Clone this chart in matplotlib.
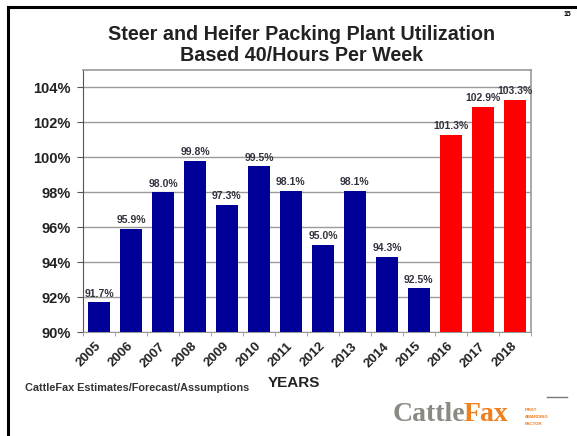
import numpy as np
import matplotlib
matplotlib.use("Agg")
import matplotlib.pyplot as plt
from matplotlib.lines import Line2D

plt.rcParams['font.family'] = ['Liberation Sans', 'DejaVu Sans']

years = ['2005', '2006', '2007', '2008', '2009', '2010', '2011',
         '2012', '2013', '2014', '2015', '2016', '2017', '2018']
utilization = [91.7, 95.9, 98.0, 99.8, 97.3, 99.5, 98.1,
               95.0, 98.1, 94.3, 92.5, 101.3, 102.9, 103.3]
forecast_from = '2016'
yticks = [90, 92, 94, 96, 98, 100, 102, 104]

fig = plt.figure(figsize=(5.77, 4.36), dpi=100)
ax = fig.add_axes([0.1438, 0.2385, 0.7762, 0.6009])

x = np.arange(len(years))
first_fc = years.index(forecast_from)
colors = ['#000099' if i < first_fc else '#ff0000' for i in range(len(years))]
ax.bar(x, utilization, width=0.68, color=colors, zorder=3)

for xi, v in zip(x, utilization):
    ax.text(xi, v + 0.2, '%.1f%%' % v, ha='center', va='bottom',
            fontsize=7.5, fontweight='bold', color='#333340', zorder=4)

ax.set_xlim(-0.5, len(years) - 0.5)
ax.set_ylim(90, 105)
ax.set_yticks(yticks)
ax.set_yticklabels(['%d%%' % t for t in yticks], fontsize=10.5, fontweight='bold', color='#222222')
ax.set_xticks(x)
ax.set_xticklabels(years, rotation=45, ha='right', va='center', rotation_mode='anchor',
                   fontsize=9.5, fontweight='bold', color='#222222')
ax.tick_params(axis='x', length=0, pad=9)
ax.set_xticks(np.arange(len(years) + 1) - 0.5, minor=True)
ax.tick_params(axis='x', which='minor', length=3, direction='out', color='#999966')
ax.tick_params(axis='y', length=4, direction='out', color='#555555', pad=5)

ax.yaxis.grid(True, color='#9a9a9a', linewidth=1.0, zorder=0)
for side in ['top', 'right']:
    ax.spines[side].set_color('#999999')
    ax.spines[side].set_linewidth(1.2)
ax.spines['left'].set_color('#555555')
ax.spines['bottom'].set_color('#999999')

fig.text(0.522, 0.897, 'Steer and Heifer Packing Plant Utilization\nBased 40/Hours Per Week',
         ha='center', va='center', fontsize=14.2, fontweight='bold', color='#222222',
         linespacing=1.15)
fig.text(0.51, 0.121, 'YEARS', ha='center', va='center', fontsize=11,
         fontweight='bold', color='#222222')
fig.text(0.044, 0.11, 'CattleFax Estimates/Forecast/Assumptions', ha='left', va='center',
         fontsize=7.8, fontweight='bold', color='#333333')

# slide frame
fig.add_artist(Line2D([0.013, 1.0], [0.985, 0.985], color='black', linewidth=2.2))
fig.add_artist(Line2D([0.013, 0.013], [0.0, 0.985], color='black', linewidth=2.2))
fig.add_artist(Line2D([0.948, 0.983], [0.09, 0.09], color='#777777', linewidth=1.0))
fig.text(0.977, 0.967, '15', ha='left', va='center', fontsize=5, fontweight='bold')

# logo
fig.text(0.681, 0.049, 'Cattle', ha='left', va='center', fontsize=20, fontweight='bold',
         family='Liberation Serif', color='#8a8a82')
fig.text(0.803, 0.049, 'Fax', ha='left', va='center', fontsize=20, fontweight='bold',
         family='Liberation Serif', color='#f07f1e')
fig.text(0.91, 0.043, 'FIRST\nAWARDING\nFACTOR', ha='left', va='center', fontsize=3.2,
         fontweight='bold', color='#f07f1e', linespacing=2.0)

fig.savefig('out.png', dpi=100)
